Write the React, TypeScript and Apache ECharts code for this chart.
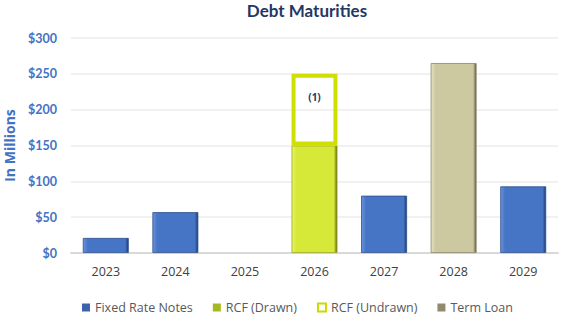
import React, { useEffect, useRef } from "react";
import * as echarts from "echarts";

const categories = ["2023", "2024", "2025", "2026", "2027", "2028", "2029"];
const fixedRateNotes = [21, 57, "-", "-", 80, "-", 93];
const rcfDrawn = ["-", "-", "-", 150, "-", "-", "-"];
const rcfUndrawn = ["-", "-", "-", 100, "-", "-", "-"];
const termLoan = ["-", "-", "-", "-", "-", 265, "-"];
const yTicks = [0, 50, 100, 150, 200, 250, 300];

const grad = (light: string, main: string, dark: string) =>
  new echarts.graphic.LinearGradient(1, 0, 0, 0, [
    { offset: 0, color: dark },
    { offset: 0.07, color: main },
    { offset: 0.9, color: main },
    { offset: 1, color: light },
  ]);

export default function App() {
  const ref = useRef<HTMLDivElement>(null);
  useEffect(() => {
    document.body.style.margin = "0";
    if (!ref.current) return;
    const chart = echarts.init(ref.current, undefined, { renderer: "svg" });
    const font = "Lato, 'Open Sans', sans-serif";
    chart.setOption({
      animation: false,
      title: {
        text: "Debt Maturities",
        left: 307,
        textAlign: "center",
        top: 2,
        padding: 0,
        textStyle: { fontSize: 17, fontWeight: "bold", color: "#1f3864", fontFamily: font },
      },
      grid: { left: 71, right: 25, top: 38, bottom: 75, containLabel: false, outerBoundsMode: "none" },
      legend: {
        top: 296,
        left: 77,
        itemWidth: 8,
        itemHeight: 8,
        itemGap: 20,
        icon: "rect",
        textStyle: { fontSize: 12.5, color: "#595959", fontFamily: "'Open Sans', sans-serif" },
        data: [
          { name: "Fixed Rate Notes", itemStyle: { color: "#3d63ad", borderWidth: 0 } },
          { name: "RCF (Drawn)", itemStyle: { color: "#a6b820", borderWidth: 0 } },
          { name: "RCF (Undrawn)", itemStyle: { color: "#ffffff", borderColor: "#c8dc00", borderWidth: 2 } },
          { name: "Term Loan", itemStyle: { color: "#8f8b6c", borderWidth: 0 } },
        ],
      },
      xAxis: {
        type: "category",
        data: categories,
        axisLine: { lineStyle: { color: "#d9d9d9", width: 2 } },
        axisTick: { show: false },
        axisLabel: { color: "#404040", fontSize: 12.5, margin: 12, fontFamily: "'Open Sans', sans-serif" },
      },
      yAxis: {
        type: "value",
        min: 0,
        max: 300,
        interval: 50,
        name: "In Millions",
        nameLocation: "middle",
        nameGap: 55,
        nameTextStyle: { color: "#4472c4", fontSize: 14, fontWeight: "bold", fontFamily: "'Open Sans', sans-serif" },
        axisLabel: {
          color: "#4472c4",
          fontSize: 12.5,
          fontWeight: "bold",
          margin: 14,
          fontFamily: font,
          formatter: (v: number) => (yTicks.includes(v) ? "$" + v : ""),
        },
        splitLine: { lineStyle: { color: "#ececec", width: 1.5 } },
      },
      series: [
        {
          name: "Fixed Rate Notes",
          type: "bar",
          stack: "t",
          barWidth: "66%",
          data: fixedRateNotes,
          itemStyle: { color: grad("#6a92dc", "#4675c6", "#1f3a6e"), borderColor: "#2e4f8c", borderWidth: 0.8 },
        },
        {
          name: "RCF (Drawn)",
          type: "bar",
          stack: "t",
          data: rcfDrawn,
          itemStyle: { color: grad("#e8f56a", "#d6e838", "#5e6610"), borderColor: "#9aa818", borderWidth: 0.8 },
        },
        {
          name: "RCF (Undrawn)",
          type: "bar",
          stack: "t",
          data: rcfUndrawn,
          itemStyle: { color: "rgba(255,255,255,0)", borderColor: "#cfe000", borderWidth: 4 },
          label: {
            show: true,
            position: "insideTop",
            distance: 18,
            formatter: "(1)",
            color: "#1f3864",
            fontSize: 10,
            fontWeight: "bold",
            fontFamily: "'Open Sans', sans-serif",
          },
        },
        {
          name: "Term Loan",
          type: "bar",
          stack: "t",
          data: termLoan,
          itemStyle: { color: grad("#e6e2c0", "#ccc8a0", "#5e5b45"), borderColor: "#8a8668", borderWidth: 0.8 },
        },
      ],
    });
    return () => chart.dispose();
  }, []);
  return <div ref={ref} style={{ width: 583, height: 328 }} />;
}
